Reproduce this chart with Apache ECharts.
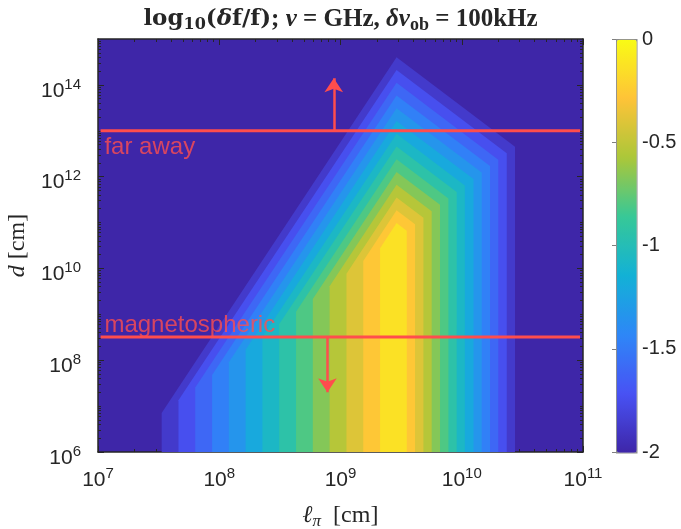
<!DOCTYPE html>
<html>
<head>
<meta charset="utf-8">
<script src="https://cdn.jsdelivr.net/npm/echarts@6/dist/echarts.min.js"></script>
<style>html,body{margin:0;padding:0;background:#fff}#chart{width:681px;height:529px}</style>
</head>
<body>
<div id="chart"></div>
<script>
// ---- data (ℓπ and d in cm) ----
// contour levels of log10(δf/f)
const levels = [-1.867, -1.733, -1.6, -1.467, -1.333, -1.2, -1.067, -0.933, -0.8, -0.667, -0.533, -0.4, -0.267, -0.133];
// ℓπ of the vertical left edge of each level region
const leftEdgeL = [3.35e7, 4.61e7, 6.34e7, 8.73e7, 1.20e8, 1.65e8, 2.27e8, 3.12e8, 4.30e8, 5.91e8, 8.13e8, 1.12e9, 1.54e9, 2.12e9];
// d where the left edge bends into the slanted edge
const leftKneeD = [7.1e6, 1.34e7, 2.53e7, 4.78e7, 9.02e7, 1.70e8, 3.21e8, 6.06e8, 1.14e9, 2.16e9, 4.08e9, 7.70e9, 1.45e10, 2.74e10];
// apex of each level region
const apexL = [2.9e9, 2.9e9, 2.9e9, 2.9e9, 2.9e9, 2.9e9, 2.9e9, 2.9e9, 2.9e9, 2.9e9, 2.9e9, 2.9e9, 2.9e9, 2.9e9];
const apexD = [4.01e14, 2.11e14, 1.11e14, 5.87e13, 3.10e13, 1.63e13, 8.61e12, 4.54e12, 2.39e12, 1.26e12, 6.65e11, 3.51e11, 1.85e11, 9.75e10];
// ℓπ of the vertical right edge and d where it bends
const rightEdgeL = [2.75e10, 2.35e10, 2.00e10, 1.71e10, 1.46e10, 1.25e10, 1.06e10, 9.08e9, 7.76e9, 6.62e9, 5.65e9, 4.83e9, 4.12e9, 3.52e9];
const rightKneeD = [4.48e12, 3.24e12, 2.35e12, 1.70e12, 1.23e12, 8.88e11, 6.43e11, 4.65e11, 3.36e11, 2.43e11, 1.76e11, 1.27e11, 9.21e10, 6.67e10];

// regime markers
const lineSpanL = [1.05e7, 9.45e10];
const farAwayD = 1e13;
const farAwayArrowL = 8.8e8;
const farAwayArrowTipD = 1.4e14;
const magD = 3.2e8;
const magArrowL = 7.8e8;
const magArrowTipD = 2.0e7;
const regimeLabelL = 1.13e7;

// axes (log10 exponents) and tick labels
const xRange = [7, 11];
const yRange = [6, 15];
const xTickExp = [7, 8, 9, 10, 11];
const yTickExp = [6, 8, 10, 12, 14];
const cbarTicks = [-2, -1.5, -1, -0.5, 0];
const cbarRange = [-2, 0];

// ---- build ----
const lg = Math.log10;
function minorTicks(lo, hi, extraDecades) {
  const out = [];
  for (let n = lo; n < hi; n++) {
    for (let k = 2; k <= 9; k++) out.push(n + lg(k));
    if (extraDecades && n > lo) out.push(n);
  }
  return out;
}
const xMinor = minorTicks(xRange[0], xRange[1], false);
const yMinor = minorTicks(yRange[0], yRange[1], true).filter(v => yTickExp.indexOf(v) < 0);

const PARULA = ['#3e26a8', '#4852f4', '#2e87f7', '#12b1d6', '#37c897', '#abc739', '#fec338', '#f9fb15'];
const FRAME = '#262626';
const RED = '#ff4d4d';
const SANS = 'Liberation Sans, Arial, Helvetica, sans-serif';
const SERIF = 'Liberation Serif, Times New Roman, serif';
const WSERIF = 'DejaVu Serif, serif';

const contourData = levels.map((lv, k) => [
  lv, lg(leftEdgeL[k]), lg(leftKneeD[k]), lg(apexL[k]), lg(apexD[k]), lg(rightEdgeL[k]), lg(rightKneeD[k])
]);

const tickRich = {
  b: { fontFamily: SANS, fontSize: 21, color: FRAME },
  e: { fontFamily: SANS, fontSize: 15, color: FRAME, padding: [0, 0, 13, 0] }
};
const powFmt = v => '{b|10}{e|' + v + '}';

function xAx(pos, major, labels) {
  return {
    gridIndex: 0, type: 'value', min: xRange[0], max: xRange[1], position: pos,
    axisLine: { show: major, onZero: false, lineStyle: { color: FRAME, width: 1.5 } },
    axisTick: { show: true, inside: true, length: major ? 6 : 3, customValues: major ? xTickExp : xMinor, lineStyle: { color: FRAME, width: 1 } },
    axisLabel: labels ? { show: true, customValues: xTickExp, formatter: powFmt, rich: tickRich, margin: 14 } : { show: false },
    splitLine: { show: false }
  };
}
function yAx(pos, major, labels) {
  return {
    gridIndex: 0, type: 'value', min: yRange[0], max: yRange[1], position: pos,
    axisLine: { show: major, onZero: false, lineStyle: { color: FRAME, width: 1.5 } },
    axisTick: { show: true, inside: true, length: major ? 6 : 3, customValues: major ? yTickExp : yMinor, lineStyle: { color: FRAME, width: 1 } },
    axisLabel: labels ? { show: true, customValues: yTickExp, formatter: powFmt, rich: tickRich, margin: 17, padding: [12, 0, 0, 0] } : { show: false },
    splitLine: { show: false }
  };
}

const xAxes = [xAx('bottom', true, true), xAx('top', true, false), xAx('bottom', false, false), xAx('top', false, false)];
Object.assign(xAxes[0], {
  name: '{i|ℓ}{s|π}{r|  [cm]}', nameLocation: 'middle', nameGap: 50,
  nameTextStyle: { rich: {
    i: { fontFamily: SERIF, fontStyle: 'italic', fontSize: 24, color: FRAME },
    s: { fontFamily: SERIF, fontStyle: 'italic', fontSize: 17, color: FRAME, padding: [11, 0, 0, 0] },
    r: { fontFamily: SERIF, fontSize: 24, color: FRAME }
  } }
});
xAxes.push({ gridIndex: 1, type: 'value', min: 0, max: 1, show: false });

const yAxes = [yAx('left', true, true), yAx('right', true, false), yAx('left', false, false), yAx('right', false, false)];
Object.assign(yAxes[0], {
  name: '{i|d}{r| [cm]}', nameLocation: 'middle', nameGap: 63,
  nameTextStyle: { rich: {
    i: { fontFamily: SERIF, fontStyle: 'italic', fontSize: 24, color: FRAME },
    r: { fontFamily: SERIF, fontSize: 24, color: FRAME }
  } }
});
yAxes.push({
  gridIndex: 1, type: 'value', min: cbarRange[0], max: cbarRange[1], position: 'right',
  axisLine: { show: false },
  axisTick: { show: true, inside: true, length: 4, customValues: cbarTicks, lineStyle: { color: '#7f7f7f' } },
  axisLabel: { show: true, customValues: cbarTicks, margin: 6, fontFamily: SANS, fontSize: 20, color: FRAME, formatter: v => String(v) },
  splitLine: { show: false }
});

const option = {
  animation: false,
  backgroundColor: '#ffffff',
  title: {
    text: '{b|log}{bs|10}{b|(}{bi|δ}{b|f/f)}{r|; }{i|ν}{r| = GHz, }{i|δν}{s|ob}{r| = 100kHz}',
    left: 'center', top: 0,
    textStyle: { rich: {
      b: { fontFamily: WSERIF, fontWeight: 'bold', fontSize: 23, color: FRAME },
      bs: { fontFamily: WSERIF, fontWeight: 'bold', fontSize: 16, color: FRAME, padding: [11, 0, 0, 0] },
      bi: { fontFamily: WSERIF, fontWeight: 'bold', fontStyle: 'italic', fontSize: 23, color: FRAME },
      r: { fontFamily: SERIF, fontSize: 25, color: FRAME },
      i: { fontFamily: SERIF, fontStyle: 'italic', fontSize: 25, color: FRAME },
      s: { fontFamily: SERIF, fontSize: 18, color: FRAME, padding: [11, 0, 0, 0] }
    } }
  },
  grid: [
    { left: 98, top: 39, width: 485, height: 413, show: true, backgroundColor: PARULA[0], borderWidth: 0, containLabel: false, outerBoundsMode: 'none' },
    { left: 616, top: 39, width: 20, height: 413, show: false, containLabel: false, outerBoundsMode: 'none' }
  ],
  xAxis: xAxes,
  yAxis: yAxes,
  visualMap: [{
    type: 'continuous', min: cbarRange[0], max: cbarRange[1], dimension: 0, seriesIndex: 0,
    inRange: { color: PARULA }, calculable: false, show: true, orient: 'vertical',
    left: 616, top: 39, itemWidth: 20, itemHeight: 413, padding: 0,
    borderColor: '#8c8c8c', borderWidth: 1.5, hoverLink: false
  }],
  series: [
    {
      type: 'custom', xAxisIndex: 0, yAxisIndex: 0, encode: { x: 1, y: 2 },
      data: contourData, silent: true,
      renderItem: function (params, api) {
        const bottom = yRange[0];
        const pts = [
          [api.value(1), bottom], [api.value(1), api.value(2)], [api.value(3), api.value(4)],
          [api.value(5), api.value(6)], [api.value(5), bottom]
        ].map(p => api.coord(p));
        return { type: 'polygon', shape: { points: pts }, style: { fill: api.visual('color'), stroke: null } };
      }
    },
    {
      type: 'line', xAxisIndex: 0, yAxisIndex: 0, showSymbol: false, silent: true, z: 5,
      data: [[lg(lineSpanL[0]), lg(farAwayD)], [lg(lineSpanL[1]), lg(farAwayD)]],
      lineStyle: { color: RED, width: 3 }
    },
    {
      type: 'line', xAxisIndex: 0, yAxisIndex: 0, showSymbol: false, silent: true, z: 5,
      data: [[lg(lineSpanL[0]), lg(magD)], [lg(lineSpanL[1]), lg(magD)]],
      lineStyle: { color: RED, width: 3 }
    },
    {
      type: 'lines', coordinateSystem: 'cartesian2d', xAxisIndex: 0, yAxisIndex: 0, silent: true, z: 5,
      symbol: ['none', 'arrow'], symbolSize: [9, 14],
      lineStyle: { color: RED, width: 2.5, opacity: 1 },
      data: [
        { coords: [[lg(farAwayArrowL), lg(farAwayD)], [lg(farAwayArrowL), lg(farAwayArrowTipD)]] },
        { coords: [[lg(magArrowL), lg(magD)], [lg(magArrowL), lg(magArrowTipD)]] }
      ]
    },
    {
      type: 'scatter', xAxisIndex: 0, yAxisIndex: 0, symbolSize: 0, silent: true, z: 6,
      itemStyle: { color: 'rgba(0,0,0,0)' },
      label: { show: true, color: RED, fontFamily: SANS, fontSize: 24, align: 'left' },
      data: [
        { value: [lg(regimeLabelL), lg(farAwayD)], label: { formatter: 'far away', position: [0, 5], verticalAlign: 'top' } },
        { value: [lg(regimeLabelL), lg(magD)], label: { formatter: 'magnetospheric', position: [0, 0], verticalAlign: 'bottom' } }
      ]
    }
  ]
};

const chart = echarts.init(document.getElementById('chart'), null, { renderer: 'canvas' });
chart.setOption(option);
</script>
</body>
</html>
